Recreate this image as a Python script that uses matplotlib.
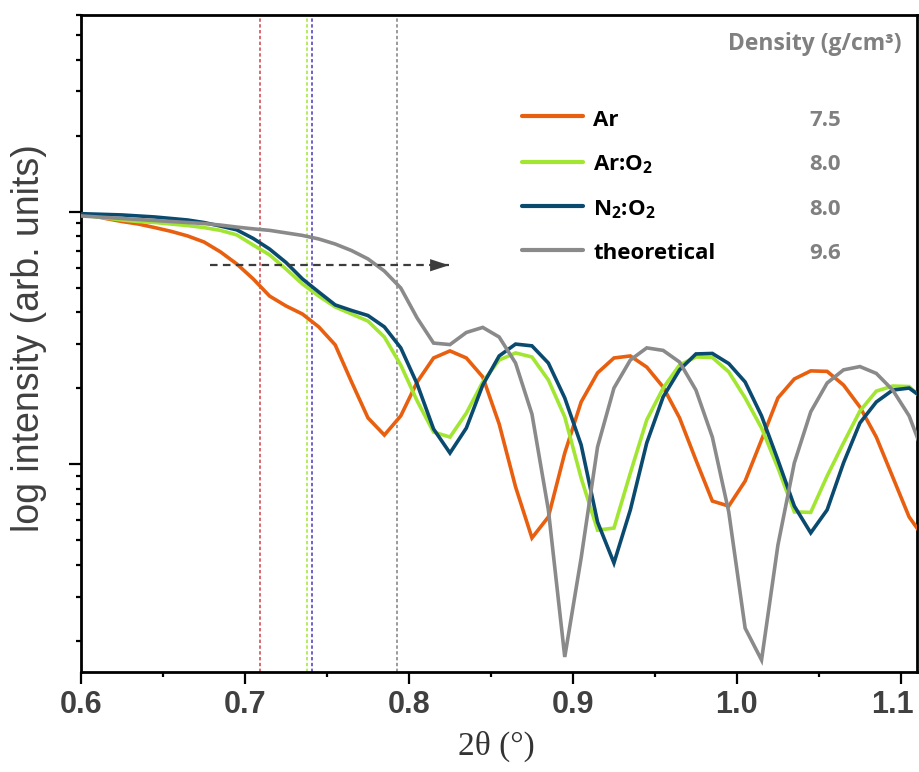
import numpy as np
import matplotlib
matplotlib.use("Agg")
import matplotlib.pyplot as plt
from matplotlib.lines import Line2D
from matplotlib.transforms import ScaledTranslation

# ---------------- data ----------------
two_theta = [0.595, 0.605, 0.615, 0.625, 0.635, 0.645, 0.655, 0.665, 0.675, 0.685, 0.695,
             0.705, 0.715, 0.725, 0.735, 0.745, 0.755, 0.765, 0.775, 0.785, 0.795,
             0.805, 0.815, 0.825, 0.835, 0.845, 0.855, 0.865, 0.875, 0.885, 0.895,
             0.905, 0.915, 0.925, 0.935, 0.945, 0.955, 0.965, 0.975, 0.985, 0.995,
             1.005, 1.015, 1.025, 1.035, 1.045, 1.055, 1.065, 1.075, 1.085, 1.095,
             1.105, 1.115]

# log10 of intensity (arb. units)
log_ar = [-0.005, -0.013, -0.027, -0.039, -0.049, -0.063, -0.078, -0.096, -0.120, -0.159, -0.207,
          -0.266, -0.334, -0.373, -0.405, -0.456, -0.527, -0.674, -0.816, -0.884, -0.808,
          -0.674, -0.579, -0.551, -0.579, -0.654, -0.840, -1.089, -1.291, -1.208, -0.955,
          -0.753, -0.638, -0.579, -0.571, -0.615, -0.694, -0.816, -0.983, -1.145, -1.165,
          -1.066, -0.903, -0.737, -0.662, -0.630, -0.632, -0.686, -0.773, -0.892, -1.050,
          -1.208, -1.299]
log_ar_o2 = [-0.011, -0.017, -0.025, -0.033, -0.039, -0.043, -0.049, -0.055, -0.063, -0.074, -0.092,
             -0.132, -0.171, -0.227, -0.286, -0.334, -0.377, -0.405, -0.433, -0.496, -0.607,
             -0.749, -0.872, -0.892, -0.797, -0.674, -0.587, -0.559, -0.575, -0.666, -0.812,
             -1.054, -1.260, -1.252, -1.034, -0.824, -0.698, -0.607, -0.575, -0.577, -0.634,
             -0.737, -0.856, -1.014, -1.188, -1.190, -1.046, -0.915, -0.789, -0.710, -0.690,
             -0.692, -0.753]
log_n2_o2 = [-0.007, -0.009, -0.011, -0.013, -0.017, -0.021, -0.027, -0.033, -0.043, -0.057, -0.072,
             -0.106, -0.148, -0.201, -0.266, -0.318, -0.369, -0.391, -0.411, -0.456, -0.539,
             -0.682, -0.860, -0.955, -0.856, -0.686, -0.571, -0.524, -0.531, -0.599, -0.737,
             -0.923, -1.228, -1.390, -1.180, -0.915, -0.733, -0.626, -0.563, -0.561, -0.601,
             -0.674, -0.808, -0.983, -1.165, -1.271, -1.180, -0.994, -0.836, -0.753, -0.706,
             -0.698, -0.745]
log_theo = [-0.015, -0.019, -0.023, -0.027, -0.031, -0.035, -0.039, -0.043, -0.047, -0.053, -0.061,
            -0.068, -0.074, -0.084, -0.094, -0.108, -0.128, -0.154, -0.187, -0.235, -0.302,
            -0.421, -0.520, -0.526, -0.478, -0.458, -0.496, -0.599, -0.801, -1.180, -1.762,
            -1.370, -0.931, -0.698, -0.587, -0.539, -0.549, -0.595, -0.706, -0.892, -1.188,
            -1.648, -1.774, -1.319, -0.994, -0.792, -0.678, -0.626, -0.613, -0.640, -0.706,
            -0.808, -0.979]

series_labels = ["Ar", r"Ar:O$_\mathregular{2}$", r"N$_\mathregular{2}$:O$_\mathregular{2}$", "theoretical"]
series_colors = ["#E8600F", "#A2E632", "#0B4A6F", "#8A8A8A"]
densities = ["7.5", "8.0", "8.0", "9.6"]

critical_angles = [0.709, 0.738, 0.741, 0.7925]
critical_colors = ["#D0404A", "#A2E632", "#4A38B8", "#808080"]

arrow_x = [0.6787, 0.8244]
arrow_log_y = -0.212

x_ticks = [0.6, 0.7, 0.8, 0.9, 1.0, 1.1]
x_tick_labels = ["0.6", "0.7", "0.8", "0.9", "1.0", "1.1"]

# ---------------- figure ----------------
plt.rcParams["mathtext.fontset"] = "custom"
plt.rcParams["mathtext.rm"] = "Open Sans:bold"
plt.rcParams["mathtext.it"] = "Open Sans:bold"
plt.rcParams["mathtext.bf"] = "Open Sans:bold"

W, H = 919, 772
fig = plt.figure(figsize=(W / 100, H / 100), dpi=100)
ax = fig.add_axes([81 / W, 1 - 672 / H, (916.5 - 81) / W, (672 - 15) / H])

x = np.array(two_theta)
for xc, cc in zip(critical_angles, critical_colors):
    ax.axvline(xc, color=cc, lw=1.1, ls=(0, (2.2, 1.6)), zorder=1)

for logv, col, lab in zip([log_ar, log_ar_o2, log_n2_o2, log_theo], series_colors, series_labels):
    ax.plot(x, 10 ** np.array(logv), color=col, lw=2.6, label=lab, zorder=3,
            solid_joinstyle="miter")

# dashed arrow
ay = 10 ** arrow_log_y
ax.plot(arrow_x, [ay, ay], color="#3C3C3C", lw=1.6, ls=(0, (3.4, 2.4)), zorder=4)
ax.annotate("", xy=(arrow_x[1], ay), xytext=(arrow_x[1] - 0.002, ay),
            arrowprops=dict(arrowstyle="-|>,head_length=0.4,head_width=0.13",
                            color="#3C3C3C", lw=0, mutation_scale=34,
                            shrinkA=0, shrinkB=0), zorder=4)

ax.set_yscale("log")
ax.set_xlim(0.6, 1.1095)
ax.set_ylim(10 ** -1.8215, 6.0)

ax.set_xticks(x_ticks)
ax.set_xticklabels(x_tick_labels)
ax.set_xticks([0.65, 0.75, 0.85, 0.95, 1.05], minor=True)
ax.yaxis.set_major_locator(matplotlib.ticker.LogLocator(base=10, numticks=10))
ax.yaxis.set_minor_locator(matplotlib.ticker.LogLocator(base=10, subs=np.arange(2, 10), numticks=20))
ax.yaxis.set_major_formatter(matplotlib.ticker.NullFormatter())
ax.yaxis.set_minor_formatter(matplotlib.ticker.NullFormatter())

ax.tick_params(axis="both", which="major", direction="out", length=8.5, width=1.6,
               colors="black", labelcolor="#404040", labelsize=22, pad=4.5)
ax.tick_params(axis="both", which="minor", direction="out", length=3.8, width=1.6, colors="black")
ax.tick_params(top=False, right=False, which="both")
for lbl in ax.get_xticklabels():
    lbl.set_fontweight("bold")
    lbl.set_family("Liberation Sans")
# keep the last label inside the figure, as in the reference
last = ax.get_xticklabels()[-1]
last.set_transform(last.get_transform() + ScaledTranslation(-8 / 100, 0, fig.dpi_scale_trans))

for sp in ax.spines.values():
    sp.set_linewidth(2.0)
    sp.set_color("black")

# axis labels
fig.text(29 / W, 1 - 338 / H, "log intensity (arb. units)", rotation=90,
         ha="center", va="center", family="Liberation Sans", size=27, color="#404040")
fig.text(496 / W, 1 - 746 / H, "2\u03b8 (\u00b0)", ha="center", va="center",
         family="Liberation Serif", size=24, color="#333333")

# legend (sample line, label, density) laid out row by row
row_line_y = [116, 162, 206, 250]
row_base_y = [126, 170.5, 215, 259.3]
for lab, col, d, yl, yb in zip(series_labels, series_colors, densities, row_line_y, row_base_y):
    fig.add_artist(Line2D([522 / W, 583 / W], [1 - yl / H, 1 - yl / H], transform=fig.transFigure,
                          color=col, lw=3.0, solid_capstyle="round"))
    fig.text(593 / W, 1 - yb / H, lab, ha="left", va="baseline",
             family="Open Sans", weight="bold", size=16, color="black")
    fig.text(825 / W, 1 - yb / H, d, ha="center", va="baseline",
             family="Open Sans", weight="bold", size=16, color="#808080")

fig.text(902 / W, 1 - 50 / H, "Density (g/cm\u00b3)", ha="right", va="baseline",
         family="Open Sans", weight="bold", size=16.5, color="#808080")

fig.savefig("out.png", dpi=100)
